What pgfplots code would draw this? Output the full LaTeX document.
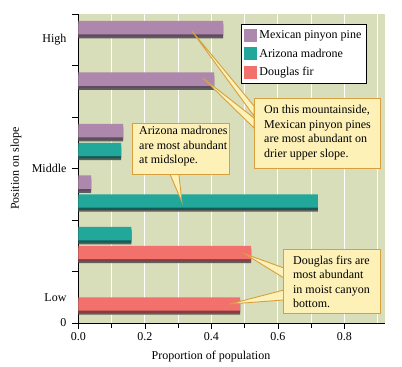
\documentclass[border=0pt]{standalone}
\usepackage{fontspec}
\setmainfont{Liberation Serif}
\usepackage{pgfplots}
\usepackage{pgfplotstable}
\pgfplotsset{compat=1.18}
\definecolor{bgc}{RGB}{216,221,186}
\definecolor{pin}{RGB}{173,136,172}
\definecolor{mad}{RGB}{33,168,155}
\definecolor{fir}{RGB}{242,113,109}
\definecolor{callfill}{RGB}{253,241,183}
\definecolor{calldraw}{RGB}{214,160,62}
\definecolor{shd}{RGB}{95,95,95}

\pgfplotstableread{
x y
0.435 5.735
0.408 4.735
0.134 3.735
0.038 2.735
}\pinyon
\pgfplotstableread{
x y
0.128 3.37
0.720 2.37
0.159 1.735
}\madrone
\pgfplotstableread{
x y
0.519 1.37
0.486 0.37
}\fir

\begin{document}
\begin{tikzpicture}[font=\fontsize{12bp}{14.5bp}\selectfont]
\useasboundingbox (-78.5bp,-44bp) rectangle (323.5bp,323bp);
\begin{axis}[
  xbar, bar width=13.3bp, bar shift=0pt,
  scale only axis, width=306.5bp, height=309bp,
  xmin=0, xmax=0.922, ymin=0, ymax=6,
  clip=false,
  axis x line*=bottom, axis y line*=left,
  axis line style={black, line width=0.9bp, -},
  axis background/.style={fill=bgc},
  tick align=outside, major tick length=6bp, minor tick length=5bp,
  tick style={black, line width=0.8bp},
  xtick={0,0.2,0.4,0.6,0.8}, xticklabels={0.0,0.2,0.4,0.6,0.8},
  minor xtick={0.1,0.3,0.5,0.7},
  xmajorgrids, xminorgrids,
  grid style={white, line width=1bp},
  extra x ticks={0.9}, extra x tick labels={}, extra x tick style={major tick length=0pt},
  ytick={0,1,2,3,4,5,6}, yticklabels={0,,,Middle,,,},
  extra y ticks={0.5,5.5}, extra y tick labels={Low,High},
  extra y tick style={tick style={draw=none}},
  yticklabel style={xshift=-2.5bp},
  xlabel={Proportion of population},
  xlabel style={at={(axis description cs:0.432,-0.110)}, anchor=center},
  ylabel={Position on slope},
  ylabel style={at={(axis description cs:-0.204,0.5)}, anchor=center},
  legend style={at={(axis description cs:0.530,0.968)}, anchor=north west,
    draw=black, line width=0.8bp, fill=white, inner xsep=3bp, inner ysep=4bp,
    row sep=5bp, font=\fontsize{12bp}{14.5bp}\selectfont},
  legend cell align=left,
  legend image code/.code={\fill[#1, yshift=0pt] (0bp,-6.5bp) rectangle (13bp,6.5bp);},
]
% pinyon
\addplot[fill=shd, draw=none, forget plot, yshift=-4bp] table {\pinyon};
\addplot[fill=pin!55!black, draw=none, forget plot, yshift=-2.4bp] table {\pinyon};
\addplot[fill=pin, draw=none] table {\pinyon};
% madrone
\addplot[fill=shd, draw=none, forget plot, yshift=-4bp] table {\madrone};
\addplot[fill=mad!55!black, draw=none, forget plot, yshift=-2.4bp] table {\madrone};
\addplot[fill=mad, draw=none] table {\madrone};
% fir
\addplot[fill=shd, draw=none, forget plot, yshift=-4bp] table {\fir};
\addplot[fill=fir!55!black, draw=none, forget plot, yshift=-2.4bp] table {\fir};
\addplot[fill=fir, draw=none] table {\fir};
\legend{Mexican pinyon pine, Arizona madrone, Douglas fir}

% callout 1
\draw[calldraw, fill=callfill, line width=0.9bp] (axis cs:0.341,5.670) -- (axis cs:0.528,4.214) -- (axis cs:0.528,4.019) -- cycle;
\draw[calldraw, fill=callfill, line width=0.9bp] (axis cs:0.374,4.757) -- (axis cs:0.528,3.981) -- (axis cs:0.528,3.786) -- cycle;
\draw[calldraw, fill=callfill, line width=0.9bp] (axis cs:0.528,4.369) rectangle (axis cs:0.907,3.010);
\node[anchor=west, align=left, inner sep=0pt] at (axis cs:0.558,3.70) {On this mountainside,\\Mexican pinyon pines\\are most abundant on\\drier upper slope.};
% callout 2
\draw[calldraw, fill=callfill, line width=0.9bp] (axis cs:0.311,2.350) -- (axis cs:0.275,2.893) -- (axis cs:0.302,2.893) -- cycle;
\draw[calldraw, fill=callfill, line width=0.9bp] (axis cs:0.161,3.883) rectangle (axis cs:0.453,2.893);
\node[anchor=west, align=left, inner sep=0pt] at (axis cs:0.182,3.43) {Arizona madrones\\are most abundant\\at midslope.};
% callout 3
\draw[calldraw, fill=callfill, line width=0.9bp] (axis cs:0.501,1.340) -- (axis cs:0.618,1.068) -- (axis cs:0.618,0.874) -- cycle;
\draw[calldraw, fill=callfill, line width=0.9bp] (axis cs:0.456,0.369) -- (axis cs:0.618,0.641) -- (axis cs:0.618,0.447) -- cycle;
\draw[calldraw, fill=callfill, line width=0.9bp] (axis cs:0.618,1.437) rectangle (axis cs:0.907,0.194);
\node[anchor=west, align=left, inner sep=0pt] at (axis cs:0.645,0.80) {Douglas firs are\\most abundant\\in moist canyon\\bottom.};
\end{axis}
\end{tikzpicture}
\end{document}
